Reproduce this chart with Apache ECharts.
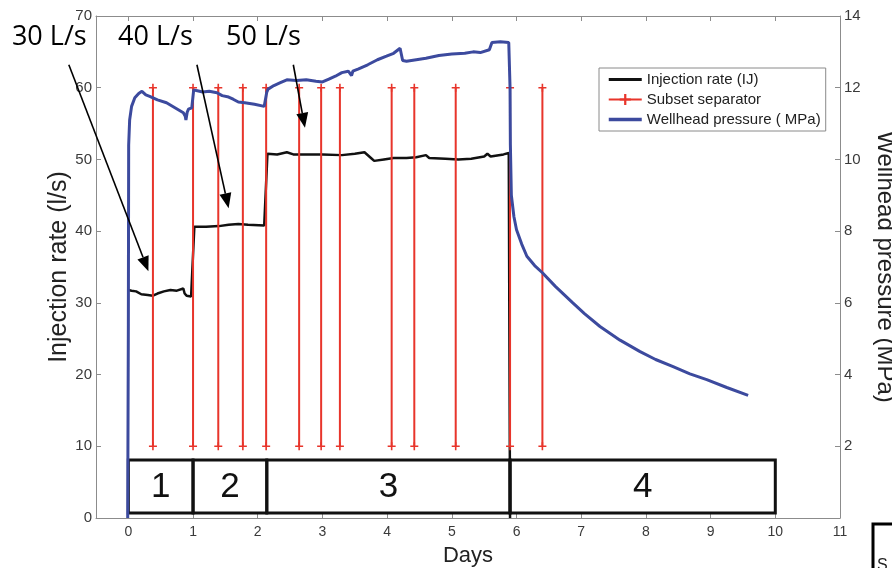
<!DOCTYPE html>
<html>
<head>
<meta charset="utf-8">
<script src="https://cdn.jsdelivr.net/npm/echarts@6/dist/echarts.min.js"></script>
<style>
  html, body { margin: 0; padding: 0; background: #fff; }
  #chart { width: 892px; height: 568px; }
</style>
</head>
<body>
<div id="chart"></div>
<script>
// ---- data ----
const dayTicks = [0, 1, 2, 3, 4, 5, 6, 7, 8, 9, 10, 11];
const rateTicks = [0, 10, 20, 30, 40, 50, 60, 70];
const pressureTicks = [0, 2, 4, 6, 8, 10, 12, 14];

// injection rate, l/s  [day, rate]
const injectionRate = [
  [0, 31.8], [0.05, 31.7], [0.12, 31.6], [0.2, 31.2], [0.3, 31.1], [0.38, 31.0],
  [0.45, 31.3], [0.55, 31.6], [0.65, 31.8], [0.75, 31.7], [0.85, 32.0], [0.87, 31.3],
  [0.9, 31.0], [0.97, 30.9], [1.0, 30.8],
  [1.02, 40.6], [1.2, 40.6], [1.4, 40.7], [1.55, 40.9], [1.7, 41.0], [1.85, 40.9],
  [2.1, 40.8], [2.13, 40.8],
  [2.15, 50.8], [2.3, 50.7], [2.45, 51.0], [2.55, 50.7], [2.8, 50.7], [3.0, 50.7],
  [3.3, 50.6], [3.5, 50.8], [3.65, 51.0], [3.75, 50.2], [3.8, 49.8], [3.95, 50.0],
  [4.1, 50.2], [4.3, 50.2], [4.45, 50.3], [4.6, 50.6], [4.65, 50.2], [4.9, 50.1],
  [5.1, 50.0], [5.3, 50.1], [5.5, 50.4], [5.55, 50.8], [5.6, 50.4], [5.8, 50.7],
  [5.88, 50.9], [5.9, 0]
];

// wellhead pressure, MPa  [day, pressure]
const wellheadPressure = [
  [-0.01, 0], [0.0, 5.4], [0.005, 10.4], [0.02, 11.1], [0.05, 11.48], [0.1, 11.72],
  [0.16, 11.84], [0.21, 11.9], [0.27, 11.8], [0.33, 11.76], [0.45, 11.66], [0.59, 11.58],
  [0.72, 11.44], [0.85, 11.3], [0.88, 11.2], [0.89, 11.1], [0.91, 11.32], [0.93, 11.4],
  [0.98, 11.44], [1.0, 11.44],
  [1.01, 11.94], [1.05, 11.92], [1.15, 11.88], [1.25, 11.9], [1.37, 11.86], [1.45, 11.78],
  [1.55, 11.74], [1.62, 11.68], [1.7, 11.6], [1.8, 11.58], [1.95, 11.54], [2.1, 11.48],
  [2.13, 11.46],
  [2.14, 11.88], [2.16, 11.96], [2.25, 12.06], [2.35, 12.14], [2.45, 12.22], [2.6, 12.2],
  [2.75, 12.22], [2.9, 12.18], [3.0, 12.16], [3.1, 12.24], [3.2, 12.32], [3.3, 12.42],
  [3.4, 12.46], [3.45, 12.34], [3.47, 12.46], [3.55, 12.52], [3.7, 12.64], [3.85, 12.78],
  [3.99, 12.88], [4.1, 12.96], [4.2, 13.1], [4.22, 13.12], [4.24, 12.76], [4.3, 12.74],
  [4.45, 12.78], [4.6, 12.82], [4.8, 12.9], [5.0, 12.94], [5.2, 12.96], [5.33, 13.0],
  [5.44, 12.98], [5.58, 13.06], [5.62, 13.26], [5.75, 13.28], [5.88, 13.26],
  [5.9, 12.0], [5.905, 10.4], [5.92, 9.0], [5.96, 8.4], [6.0, 8.04], [6.08, 7.64],
  [6.16, 7.3], [6.28, 7.04], [6.4, 6.84], [6.6, 6.46], [6.87, 6.0], [7.05, 5.7],
  [7.29, 5.34], [7.6, 4.96], [7.91, 4.64], [8.15, 4.42], [8.42, 4.22], [8.68, 4.02],
  [8.94, 3.86], [9.25, 3.64], [9.58, 3.42]
];

// subset separators (days) and their span on the rate axis
const separatorDays = [0.38, 1.0, 1.39, 1.77, 2.13, 2.64, 2.98, 3.27, 4.07, 4.42, 5.06, 5.9, 6.4];
const separatorSpan = [10, 60];

// subset numbers
const subsetLabels = ['1', '2', '3', '4', '5', '6', '7', '8', '9', '10', '11', '12', '13', '14'];
const subsetLabelDays = [0.18, 0.69, 1.21, 1.62, 1.94, 2.34, 2.86, 3.17, 3.68, 4.23, 4.69, 5.43, 6.15, 6.97];
const subsetLabelLevel = 18.2;

// injection stages
const stageStart = [0, 1, 2.14, 5.9];
const stageEnd = [1, 2.14, 5.9, 10];
const stageLabels = ['1', '2', '3', '4'];

// rate call-outs: text anchor (left, middle), arrow tail and arrow tip, all in [day, rate]
const calloutTexts = ['30 L/s', '40 L/s', '50 L/s'];
const calloutAnchors = [[-1.80, 67.0], [-0.16, 67.0], [1.51, 67.0]];
const calloutTails = [[-0.92, 63.2], [1.06, 63.2], [2.55, 63.2]];
const calloutTips = [[0.31, 34.4], [1.55, 43.2], [2.73, 54.4]];

// ---- build series data ----
const separatorData = [];
separatorDays.forEach(d => {
  separatorData.push([d, separatorSpan[0]], [d, separatorSpan[1]], [d, '-']);
});
const subsetData = subsetLabelDays.map((d, i) => [d, subsetLabelLevel, subsetLabels[i]]);
const stageData = stageStart.map((s, i) => [s, stageEnd[i]]);

const FONT = '"Liberation Sans", Arial, Helvetica, sans-serif';
const AXIS_GREY = '#8c8c8c';
const TICK_TEXT = '#3a3a3a';
const plusSymbol = 'path://M4,0 L6,0 L6,4 L10,4 L10,6 L6,6 L6,10 L4,10 L4,6 L0,6 L0,4 L4,4 Z';

const chart = echarts.init(document.getElementById('chart'), null, { renderer: 'canvas' });

const option = {
  backgroundColor: '#ffffff',
  animation: false,
  textStyle: { fontFamily: FONT },
  grid: { left: 96, right: 52, top: 16, bottom: 50, containLabel: false, outerBoundsMode: 'none' },
  legend: {
    orient: 'vertical',
    left: 599,
    top: 68,
    data: [
      { name: 'Injection rate (IJ)', itemStyle: { opacity: 0 }, lineStyle: { width: 3 } },
      { name: 'Subset separator', lineStyle: { width: 2 } },
      { name: 'Wellhead pressure ( MPa)', itemStyle: { opacity: 0 }, lineStyle: { width: 3.5 } }
    ],
    backgroundColor: '#ffffff',
    borderColor: '#8a8a8a',
    borderWidth: 1,
    borderRadius: 0,
    padding: [4, 5, 4, 8],
    itemWidth: 33,
    itemHeight: 14,
    itemGap: 5,
    textStyle: { fontFamily: FONT, fontSize: 15, color: '#222' }
  },
  xAxis: [
    {
      type: 'value', position: 'bottom', min: -0.5, max: 11,
      axisLine: { show: true, onZero: false, lineStyle: { color: AXIS_GREY, width: 1 } },
      axisTick: { show: true, inside: true, length: 5, customValues: dayTicks, lineStyle: { color: AXIS_GREY } },
      axisLabel: { show: true, customValues: dayTicks, color: TICK_TEXT, fontSize: 14, margin: 7, fontFamily: FONT },
      splitLine: { show: false },
      name: 'Days', nameLocation: 'middle', nameGap: 27, nameMoveOverlap: false,
      nameTextStyle: { fontSize: 22, color: '#222', fontFamily: FONT }
    },
    {
      type: 'value', position: 'top', min: -0.5, max: 11,
      axisLine: { show: true, onZero: false, lineStyle: { color: AXIS_GREY, width: 1 } },
      axisTick: { show: true, inside: true, length: 5, customValues: dayTicks, lineStyle: { color: AXIS_GREY } },
      axisLabel: { show: false },
      splitLine: { show: false }
    }
  ],
  yAxis: [
    {
      type: 'value', position: 'left', min: 0, max: 70, interval: 10,
      axisLine: { show: true, onZero: false, lineStyle: { color: AXIS_GREY, width: 1 } },
      axisTick: { show: true, inside: true, length: 5, lineStyle: { color: AXIS_GREY } },
      axisLabel: { color: TICK_TEXT, fontSize: 15, margin: 4, fontFamily: FONT },
      splitLine: { show: false },
      name: 'Injection rate (l/s)', nameLocation: 'middle', nameGap: 24, nameMoveOverlap: false,
      nameTextStyle: { fontSize: 25, color: '#222', fontFamily: FONT }
    },
    {
      type: 'value', position: 'right', min: 0, max: 14, interval: 2,
      axisLine: { show: true, onZero: false, lineStyle: { color: AXIS_GREY, width: 1 } },
      axisTick: { show: true, inside: true, length: 5, lineStyle: { color: AXIS_GREY } },
      axisLabel: {
        color: TICK_TEXT, fontSize: 15, margin: 4, fontFamily: FONT,
        formatter: v => (v === 0 ? '' : String(v))
      },
      splitLine: { show: false },
      name: 'Wellhead pressure (MPa)', nameLocation: 'middle', nameGap: 33, nameRotate: -90,
      nameMoveOverlap: false,
      nameTextStyle: { fontSize: 24, color: '#222', fontFamily: FONT }
    }
  ],
  series: [
    {
      name: 'Stages',
      type: 'custom',
      xAxisIndex: 0, yAxisIndex: 0,
      clip: false,
      z: 3,
      encode: { x: [0, 1] },
      data: stageData,
      renderItem: function (params, api) {
        const p0 = api.coord([api.value(0), 8.1]);
        const p1 = api.coord([api.value(1), 0.7]);
        return {
          type: 'group',
          children: [
            {
              type: 'rect',
              shape: { x: p0[0], y: p0[1], width: p1[0] - p0[0], height: p1[1] - p0[1] },
              style: { fill: 'none', stroke: '#111', lineWidth: 3 }
            },
            {
              type: 'text',
              style: {
                text: stageLabels[params.dataIndex],
                x: (p0[0] + p1[0]) / 2, y: (p0[1] + p1[1]) / 2 + 1,
                align: 'center', verticalAlign: 'middle',
                font: '35px ' + FONT, fill: '#111'
              }
            }
          ]
        };
      }
    },
    {
      name: 'Injection rate (IJ)',
      type: 'line',
      xAxisIndex: 0, yAxisIndex: 0,
      data: injectionRate,
      symbol: 'none',
      z: 4,
      lineStyle: { color: '#111111', width: 2.5 },
      itemStyle: { color: '#111111' }
    },
    {
      name: 'Subset separator',
      type: 'line',
      xAxisIndex: 0, yAxisIndex: 0,
      data: separatorData,
      connectNulls: false,
      symbol: plusSymbol,
      symbolSize: 8,
      z: 5,
      lineStyle: { color: '#e8352b', width: 2 },
      itemStyle: { color: '#e8352b' }
    },
    {
      name: 'Wellhead pressure ( MPa)',
      type: 'line',
      xAxisIndex: 0, yAxisIndex: 1,
      data: wellheadPressure,
      symbol: 'none',
      z: 6,
      lineStyle: { color: '#3c4a9e', width: 3 },
      itemStyle: { color: '#3c4a9e' }
    },
    {
      name: 'Subset numbers',
      type: 'scatter',
      xAxisIndex: 0, yAxisIndex: 0,
      data: subsetData,
      symbolSize: 1,
      itemStyle: { opacity: 0 },
      z: 7,
      label: {
        show: true, position: 'inside',
        formatter: p => p.value[2],
        fontSize: 22, color: '#222', fontFamily: FONT
      }
    }
  ]
};

chart.setOption(option);

// call-out texts and arrows, anchored to data coordinates
function calloutGraphics() {
  const toPx = v => chart.convertToPixel({ xAxisIndex: 0, yAxisIndex: 0 }, v);
  const items = [];
  calloutTexts.forEach((txt, i) => {
    const tail = toPx(calloutTails[i]);
    const tip = toPx(calloutTips[i]);
    const anchor = toPx(calloutAnchors[i]);
    const dx = tip[0] - tail[0], dy = tip[1] - tail[1];
    const len = Math.sqrt(dx * dx + dy * dy);
    const ux = dx / len, uy = dy / len;
    const headLen = 15, headHalf = 6;
    const bx = tip[0] - ux * headLen, by = tip[1] - uy * headLen;
    items.push({
      type: 'line', z: 100,
      shape: { x1: tail[0], y1: tail[1], x2: bx, y2: by },
      style: { stroke: '#000', lineWidth: 1.6 }
    });
    items.push({
      type: 'polygon', z: 100,
      shape: { points: [[tip[0], tip[1]], [bx - uy * headHalf, by + ux * headHalf], [bx + uy * headHalf, by - ux * headHalf]] },
      style: { fill: '#000' }
    });
    items.push({
      type: 'text', z: 100,
      style: {
        text: txt,
        x: anchor[0], y: anchor[1],
        align: 'left', verticalAlign: 'middle',
        font: '27px "Open Sans", "Liberation Sans", sans-serif', fill: '#000'
      }
    });
  });
  // neighbouring frame at the page corner
  items.push({
    type: 'rect', z: 100,
    shape: { x: 873, y: 524, width: 60, height: 80 },
    style: { fill: '#fff', stroke: '#000', lineWidth: 3 }
  });
  items.push({
    type: 'text', z: 101,
    style: { text: 'S', x: 877, y: 558, font: '16px ' + FONT, fill: '#222' }
  });
  return items;
}

chart.setOption({ graphic: calloutGraphics() });
</script>
</body>
</html>
